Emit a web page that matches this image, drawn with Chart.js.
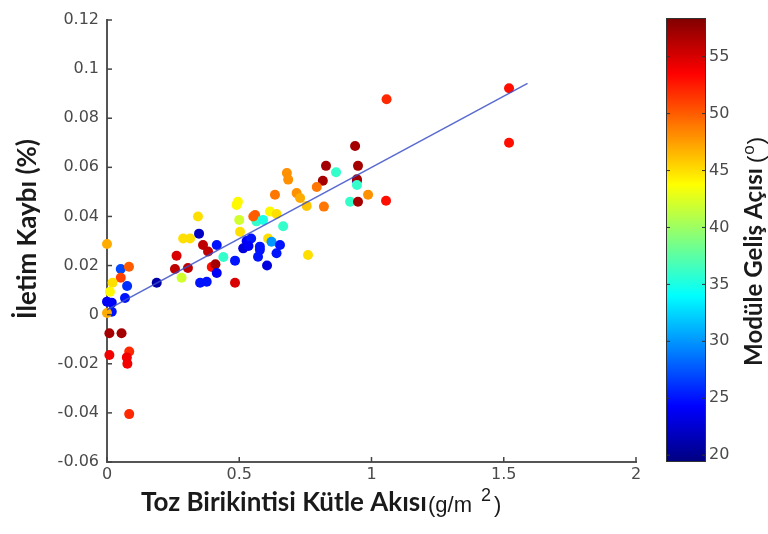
<!DOCTYPE html>
<html>
<head>
<meta charset="utf-8">
<script src="https://cdn.jsdelivr.net/npm/chart.js@4.4.1/dist/chart.umd.min.js"></script>
<style>
    body { margin: 0; background: #fff; }
</style>
</head>
<body>
<canvas id="lossChart" width="768" height="534"></canvas>
<script>
// Dust deposition mass flux (g/m2)
const fluxX = [
    0.000, 0.052, 0.083, 0.052, 0.021, 0.076, 0.011, 0.000, 0.018, 0.068,
    0.018, 0.000, 0.188, 0.263, 0.257, 0.306, 0.282, 0.288, 0.314, 0.344,
    0.348, 0.363, 0.382, 0.415, 0.396, 0.410, 0.415, 0.352, 0.377, 0.440,
    0.484, 0.484, 0.495, 0.490, 0.500, 0.503, 0.560, 0.565, 0.590, 0.528,
    0.545, 0.515, 0.535, 0.578, 0.571, 0.605, 0.609, 0.622, 0.654, 0.641,
    0.666, 0.635, 0.680, 0.685, 0.717, 0.616, 0.641, 0.938, 0.828, 0.949,
    0.866, 0.816, 0.945, 0.945, 0.945, 0.793, 0.730, 0.755, 0.820, 0.919,
    0.949, 0.987, 1.055, 0.760, 0.553, 1.057, 1.520, 1.520, 0.009, 0.055,
    0.009, 0.084, 0.075, 0.077, 0.084, 0.578
];
// Transmission loss (%)
const lossY = [
    0.0288, 0.0186, 0.0195, 0.0150, 0.0130, 0.0117, 0.0093, 0.0053, 0.0049, 0.0068,
    0.0012, 0.0007, 0.0130, 0.0240, 0.0186, 0.0190, 0.0150, 0.0310, 0.0310, 0.0400,
    0.0330, 0.0284, 0.0257, 0.0284, 0.0194, 0.0205, 0.0170, 0.0130, 0.0134, 0.0235,
    0.0220, 0.0130, 0.0460, 0.0447, 0.0386, 0.0338, 0.0406, 0.0380, 0.0386, 0.0300,
    0.0310, 0.0270, 0.0280, 0.0264, 0.0236, 0.0200, 0.0310, 0.0297, 0.0284, 0.0250,
    0.0360, 0.0488, 0.0577, 0.0550, 0.0495, 0.0420, 0.0410, 0.0687, 0.0606, 0.0606,
    0.0580, 0.0545, 0.0545, 0.0551, 0.0528, 0.0520, 0.0475, 0.0443, 0.0440, 0.0460,
    0.0460, 0.0488, 0.0464, 0.0243, 0.0400, 0.0877, 0.0922, 0.0700, -0.0076, -0.0076,
    -0.0164, -0.0150, -0.0174, -0.0200, -0.0405, 0.0277
];
// Incidence angle on module (deg)
const angleDeg = [
    47, 27, 50, 51, 45, 26, 44, 24, 24, 25,
    25, 47, 21, 55, 56, 56, 42, 45, 45, 45,
    22, 56, 56, 25, 53, 57, 24, 25, 25, 36,
    25, 55, 44, 44, 42, 45, 50, 36, 35, 24,
    25, 23, 24, 25, 25, 23, 45, 30, 25, 25,
    36, 49, 48, 48, 48, 44, 45, 57, 57, 57,
    36, 57, 25, 57, 36, 49, 47, 46, 49, 36,
    57, 48, 53, 45, 50, 52, 53, 53, 57, 57,
    54, 52, 54, 54, 52, 25
];

// Fitted line end points
const fitX = [0, 1.59];
const fitY = [0.002, 0.0942];

const xTicks = [0, 0.5, 1, 1.5, 2];
const xTickLabels = ['0', '0.5', '1', '1.5', '2'];
const yTicks = [-0.06, -0.04, -0.02, 0, 0.02, 0.04, 0.06, 0.08, 0.1, 0.12];
const yTickLabels = ['-0.06', '-0.04', '-0.02', '0', '0.02', '0.04', '0.06', '0.08', '0.1', '0.12'];
const cbTicks = [20, 25, 30, 35, 40, 45, 50, 55];
const cbMin = 19.4;
const cbMax = 58.4;

// MATLAB style jet colormap
const clamp = (v) => Math.max(0, Math.min(1, v));
const jet = (t) => {
    const r = clamp(Math.min(4 * t - 1.5, -4 * t + 4.5));
    const g = clamp(Math.min(4 * t - 0.5, -4 * t + 3.5));
    const b = clamp(Math.min(4 * t + 0.5, -4 * t + 2.5));
    return `rgb(${Math.round(r * 255)},${Math.round(g * 255)},${Math.round(b * 255)})`;
};
const angleColor = (a) => jet((a - cbMin) / (cbMax - cbMin));

const points = fluxX.map((x, i) => ({ x: x, y: lossY[i] }));
const pointColors = angleDeg.map(angleColor);
const fitPoints = fitX.map((x, i) => ({ x: x, y: fitY[i] }));

const tickColor = '#4a4a4a';
const tickFamily = '"DejaVu Sans", sans-serif';
const tickFont = `16px ${tickFamily}`;

// fit text to a target width
const fitFont = (ctx, text, weight, family, targetWidth) => {
    ctx.font = `${weight} 20px ${family}`;
    const w = ctx.measureText(text).width;
    return 20 * targetWidth / w;
};

const decorPlugin = {
    id: 'decor',
    afterDraw(chart) {
        const ctx = chart.ctx;
        const area = chart.chartArea;
        const xs = chart.scales.x;
        const ys = chart.scales.y;

        // inward tick marks
        ctx.save();
        ctx.strokeStyle = '#444';
        ctx.lineWidth = 1.5;
        xTicks.forEach(v => {
            const px = xs.getPixelForValue(v);
            ctx.beginPath();
            ctx.moveTo(px, area.bottom);
            ctx.lineTo(px, area.bottom - 5);
            ctx.stroke();
        });
        yTicks.forEach(v => {
            const py = ys.getPixelForValue(v);
            ctx.beginPath();
            ctx.moveTo(area.left, py);
            ctx.lineTo(area.left + 5, py);
            ctx.stroke();
        });
        ctx.restore();

        // colorbar
        const cbLeft = 666, cbRight = 706;
        const cbTop = area.top - 2, cbBottom = area.bottom;
        const cbPix = (v) => cbBottom - (v - cbMin) / (cbMax - cbMin) * (cbBottom - cbTop);
        ctx.save();
        const grad = ctx.createLinearGradient(0, cbBottom, 0, cbTop);
        for (let i = 0; i <= 40; i++) {
            grad.addColorStop(i / 40, jet(i / 40));
        }
        ctx.fillStyle = grad;
        ctx.fillRect(cbLeft, cbTop, cbRight - cbLeft, cbBottom - cbTop);
        ctx.strokeStyle = '#333';
        ctx.lineWidth = 1;
        ctx.strokeRect(cbLeft + 0.5, cbTop + 0.5, cbRight - cbLeft - 1, cbBottom - cbTop - 1);
        ctx.fillStyle = tickColor;
        ctx.font = tickFont;
        ctx.textAlign = 'left';
        ctx.textBaseline = 'middle';
        cbTicks.forEach(v => {
            const py = cbPix(v);
            ctx.beginPath();
            ctx.moveTo(cbLeft, py);
            ctx.lineTo(cbLeft + 4, py);
            ctx.moveTo(cbRight, py);
            ctx.lineTo(cbRight - 4, py);
            ctx.stroke();
            ctx.fillText(String(v), cbRight + 3, py);
        });
        ctx.restore();

        // y axis title
        const boldFam = 'Lato, "Open Sans", sans-serif';
        ctx.save();
        ctx.fillStyle = '#1a1a1a';
        const yTitle = 'İletim Kaybı (%)';
        const ySize = fitFont(ctx, yTitle, 'bold', boldFam, 180);
        ctx.font = `bold ${ySize}px ${boldFam}`;
        ctx.translate(28, 229);
        ctx.rotate(-Math.PI / 2);
        ctx.textAlign = 'center';
        ctx.textBaseline = 'middle';
        ctx.fillText(yTitle, 0, 0);
        ctx.restore();

        // x axis title
        ctx.save();
        ctx.fillStyle = '#1a1a1a';
        const xTitle = 'Toz Birikintisi Kütle Akısı';
        const xSize = fitFont(ctx, xTitle, 'bold', boldFam, 286);
        ctx.font = `bold ${xSize}px ${boldFam}`;
        ctx.textAlign = 'left';
        ctx.textBaseline = 'alphabetic';
        ctx.fillText(xTitle, 141, 511);
        ctx.font = '22px "Liberation Sans", Arial, sans-serif';
        ctx.fillText('(g/m', 428, 512);
        let xe = 428 + ctx.measureText('(g/m').width + 9;
        ctx.font = '18px "Liberation Sans", Arial, sans-serif';
        ctx.fillText('2', xe, 501);
        xe += ctx.measureText('2').width + 3;
        ctx.font = '22px "Liberation Sans", Arial, sans-serif';
        ctx.fillText(')', xe, 512);
        ctx.restore();

        // colorbar title
        ctx.save();
        ctx.fillStyle = '#1a1a1a';
        const cTitle = 'Modüle Geliş Açısı';
        const cSize = fitFont(ctx, cTitle, 'bold', boldFam, 198);
        ctx.translate(762, 366);
        ctx.rotate(-Math.PI / 2);
        ctx.font = `bold ${cSize}px ${boldFam}`;
        ctx.textAlign = 'left';
        ctx.textBaseline = 'alphabetic';
        ctx.fillText(cTitle, 0, 0);
        let ce = ctx.measureText(cTitle).width + 5;
        ctx.font = '22px "Liberation Sans", Arial, sans-serif';
        ctx.fillText('(', ce, 1);
        ce += ctx.measureText('(').width + 1;
        ctx.font = '17px "Liberation Sans", Arial, sans-serif';
        ctx.fillText('o', ce, -8);
        ce += ctx.measureText('o').width + 1;
        ctx.font = '22px "Liberation Sans", Arial, sans-serif';
        ctx.fillText(')', ce, 1);
        ctx.restore();
    }
};

new Chart(document.getElementById('lossChart'), {
    type: 'scatter',
    data: {
        datasets: [
            {
                type: 'line',
                label: 'Fit',
                data: fitPoints,
                borderColor: 'rgba(60, 80, 200, 0.85)',
                borderWidth: 1.5,
                pointRadius: 0,
                fill: false,
                order: 0
            },
            {
                label: 'Measurements',
                data: points,
                backgroundColor: pointColors,
                borderColor: pointColors,
                borderWidth: 0,
                pointRadius: 5,
                clip: false,
                order: 1
            }
        ]
    },
    options: {
        responsive: false,
        animation: false,
        layout: { padding: { left: 0, top: 20, right: 132, bottom: 0 } },
        plugins: {
            legend: { display: false },
            tooltip: { enabled: false }
        },
        scales: {
            x: {
                type: 'linear',
                min: 0,
                max: 2,
                afterFit: (scale) => { scale.height = 72; },
                afterBuildTicks: (scale) => { scale.ticks = xTicks.map(v => ({ value: v })); },
                grid: { drawOnChartArea: false, drawTicks: false },
                border: { display: true, color: '#555', width: 2 },
                ticks: {
                    color: tickColor,
                    font: { family: tickFamily, size: 16 },
                    padding: 3,
                    maxRotation: 0,
                    callback: (v, i) => xTickLabels[i]
                }
            },
            y: {
                type: 'linear',
                min: -0.06,
                max: 0.12,
                afterFit: (scale) => { scale.width = 107; },
                afterBuildTicks: (scale) => { scale.ticks = yTicks.map(v => ({ value: v })); },
                grid: { drawOnChartArea: false, drawTicks: false },
                border: { display: true, color: '#555', width: 2 },
                ticks: {
                    color: tickColor,
                    font: { family: tickFamily, size: 16 },
                    padding: 8,
                    callback: (v, i) => yTickLabels[i]
                }
            }
        }
    },
    plugins: [decorPlugin]
});
</script>
</body>
</html>
